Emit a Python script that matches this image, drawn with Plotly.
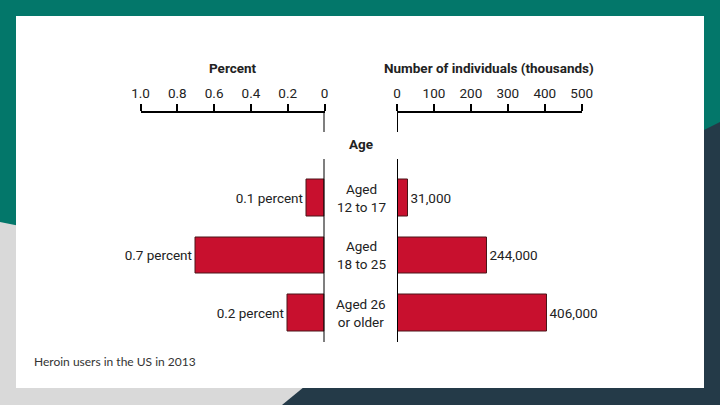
import plotly.graph_objects as go

W, H = 720, 405

age_groups = ["Aged<br>12 to 17", "Aged<br>18 to 25", "Aged 26<br>or older"]
percent_values = [0.1, 0.7, 0.2]
individuals_thousands = [31, 244, 406]
percent_ticks = [1.0, 0.8, 0.6, 0.4, 0.2, 0]
percent_ticktext = ["1.0", "0.8", "0.6", "0.4", "0.2", "0"]
number_ticks = [0, 100, 200, 300, 400, 500]

percent_text = [f"{v} percent" for v in percent_values]
number_text = [f"{v * 1000:,}" for v in individuals_thousands]


def px(x):
    return x / W


def py(y):
    return 1 - y / H


NARROW = "Roboto, Liberation Sans, sans-serif"
BAR = "#c8102e"
EDGE = "#4a1418"
FS = 13.5

fig = go.Figure()
fig.add_trace(go.Bar(
    y=age_groups, x=percent_values, orientation="h",
    xaxis="x", yaxis="y", width=0.64,
    marker=dict(color=BAR, line=dict(color=EDGE, width=1)),
    text=percent_text, textposition="outside", cliponaxis=False,
    textfont=dict(family=NARROW, size=FS, color="#222"),
    showlegend=False, hoverinfo="skip",
))
fig.add_trace(go.Bar(
    y=age_groups, x=individuals_thousands, orientation="h",
    xaxis="x2", yaxis="y", width=0.64,
    marker=dict(color=BAR, line=dict(color=EDGE, width=1)),
    text=number_text, textposition="outside", cliponaxis=False,
    textfont=dict(family=NARROW, size=FS, color="#222"),
    showlegend=False, hoverinfo="skip",
))

axis_common = dict(
    side="top", anchor="free", position=py(111.5),
    showline=True, linecolor="black", linewidth=2,
    ticks="outside", ticklen=7, tickwidth=2, tickcolor="black",
    showgrid=False, zeroline=False, automargin=False,
    tickfont=dict(family=NARROW, size=FS, color="#222"),
    fixedrange=True,
)
fig.update_layout(
    width=W, height=H, autosize=False,
    margin=dict(l=0, r=0, t=0, b=0, pad=0, autoexpand=False),
    paper_bgcolor="#03776a", plot_bgcolor="rgba(0,0,0,0)",
    bargap=0,
    xaxis=dict(domain=[px(140.5), px(324.5)], range=[1.0, 0],
               tickvals=percent_ticks, ticktext=percent_ticktext, **axis_common),
    xaxis2=dict(domain=[px(397), px(581.7)], range=[0, 500],
                tickvals=number_ticks, **axis_common),
    yaxis=dict(domain=[py(342), py(111.5)], range=[2.505, -1.505],
               visible=False, anchor="x", fixedrange=True, automargin=False),
)


def path(points):
    return "M " + " L ".join(f"{px(x)},{py(y)}" for x, y in points) + " Z"


shapes = [
    dict(type="path", xref="paper", yref="paper", layer="below", line=dict(width=0),
         fillcolor="#d9d9d9",
         path=path([(0, 222), (30, 228), (500, 388), (500, 405), (0, 405)])),
    dict(type="path", xref="paper", yref="paper", layer="below", line=dict(width=0),
         fillcolor="#243a48",
         path=path([(282, 405), (310, 382), (700, 132), (720, 122), (720, 405)])),
    dict(type="rect", xref="paper", yref="paper", layer="below", line=dict(width=0),
         fillcolor="white", x0=px(16), x1=px(704), y0=py(388), y1=py(16)),
]
for xa in ["x", "x2"]:
    for y0, y1 in [(111.5, 132), (159, 342)]:
        shapes.append(dict(type="line", xref=xa, yref="paper", x0=0, x1=0,
                           y0=py(y0), y1=py(y1), line=dict(color="black", width=2)))
fig.update_layout(shapes=shapes)

annotations = [
    dict(text="<b>Percent</b>", x=px(232.5), y=py(68)),
    dict(text="<b>Number of individuals (thousands)</b>", x=px(489), y=py(68)),
    dict(text="<b>Age</b>", x=px(361), y=py(144)),
]
for a in annotations:
    a.update(xref="paper", yref="paper", showarrow=False, xanchor="center", yanchor="middle",
             font=dict(family=NARROW, size=FS, color="#222"))
for g in age_groups:
    annotations.append(dict(text=g, x=px(361), y=g, xref="paper", yref="y", showarrow=False,
                            xanchor="center", yanchor="middle",
                            font=dict(family=NARROW, size=FS, color="#222")))
annotations.append(dict(text="Heroin users in the US in 2013", x=px(32), y=py(361),
                        xref="paper", yref="paper", showarrow=False, xanchor="left",
                        yanchor="middle", font=dict(family="Lato, sans-serif", size=12, color="#333")))
fig.update_layout(annotations=annotations)

fig.write_html("out.html", config={"displayModeBar": False, "responsive": False},
               post_script="document.body.style.margin='0';document.body.style.overflow='hidden';")
